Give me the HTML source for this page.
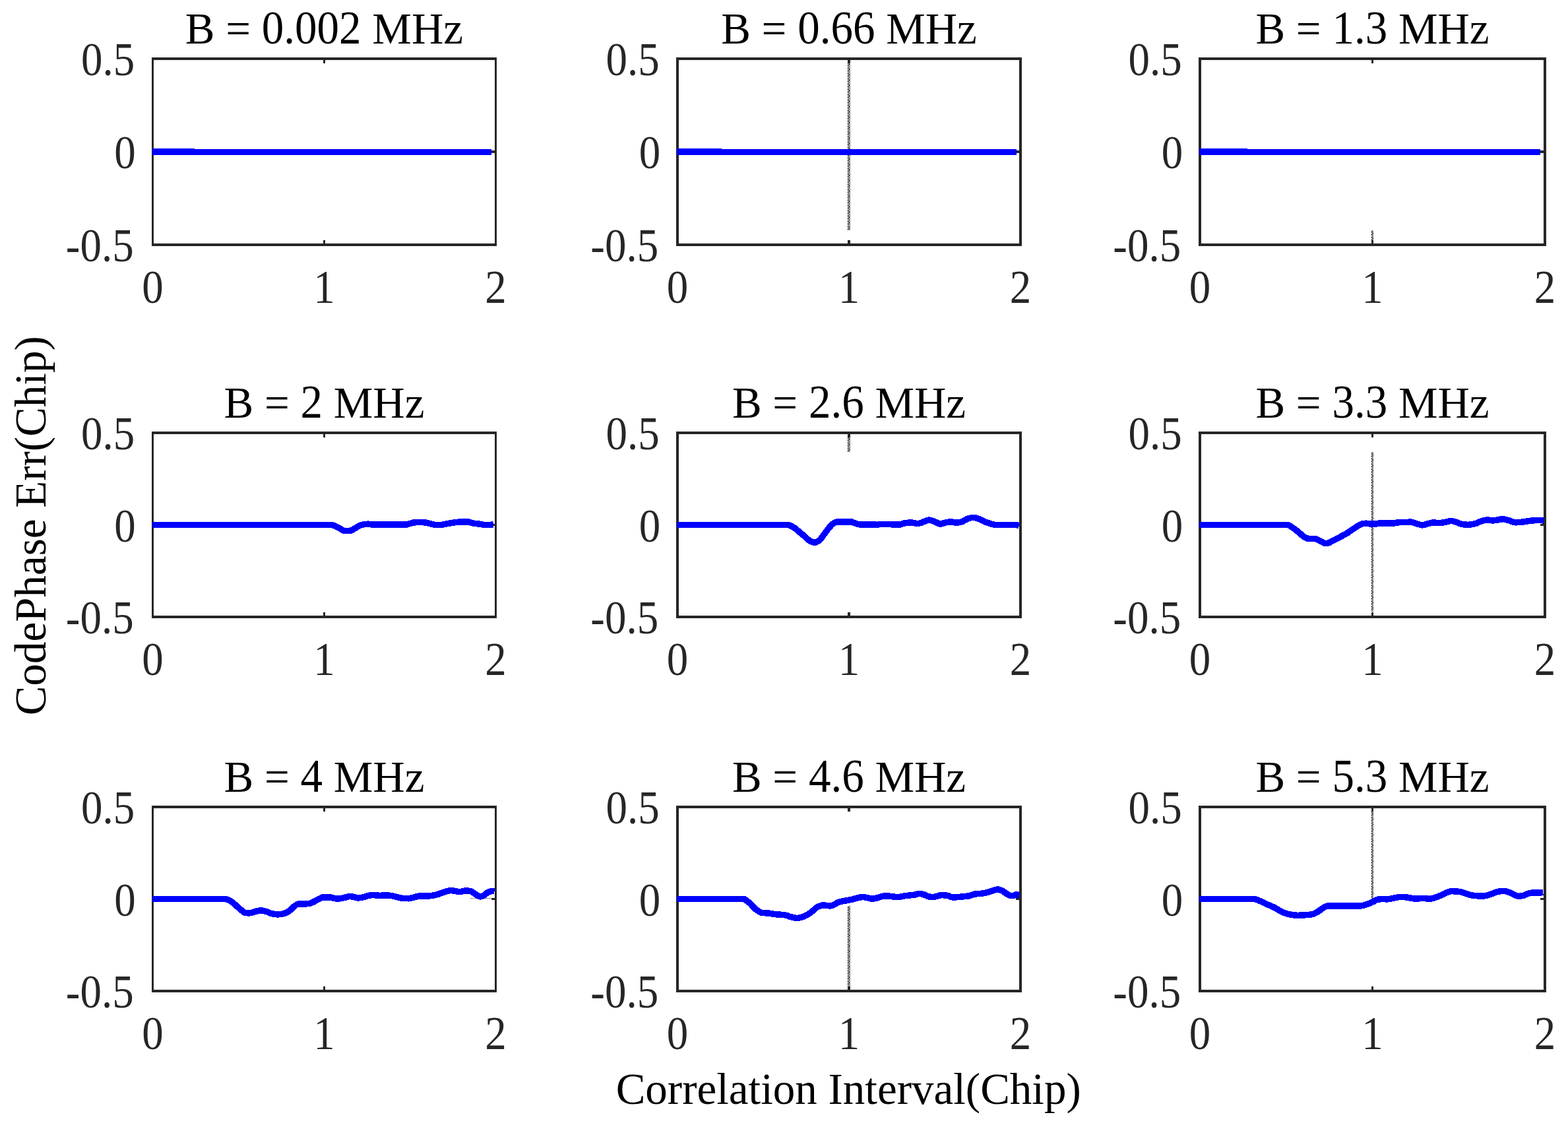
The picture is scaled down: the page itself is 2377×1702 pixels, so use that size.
<!DOCTYPE html>
<html><head><meta charset="utf-8"><title>CodePhase Err vs Correlation Interval</title>
<style>html,body{margin:0;padding:0;background:#fff;}body{width:2377px;height:1702px;overflow:hidden;}svg{display:block;}text{font-family:"Liberation Serif","Times New Roman",serif;}</style>
</head><body>
<svg width="2377" height="1702" viewBox="0 0 2377 1702">
<defs><pattern id="dots" x="1285" y="201" width="4" height="8" patternUnits="userSpaceOnUse"><g fill="#262626"><rect x="1" y="0" width="1" height="1"/><rect x="2" y="0" width="1" height="1"/><rect x="3" y="0" width="1" height="1"/><rect x="0" y="1" width="1" height="1"/><rect x="2" y="1" width="1" height="1"/><rect x="0" y="2" width="1" height="1"/><rect x="1" y="2" width="1" height="1"/><rect x="3" y="2" width="1" height="1"/><rect x="0" y="3" width="1" height="1"/><rect x="2" y="3" width="1" height="1"/><rect x="1" y="4" width="1" height="1"/><rect x="3" y="4" width="1" height="1"/><rect x="0" y="5" width="1" height="1"/><rect x="2" y="5" width="1" height="1"/><rect x="0" y="6" width="1" height="1"/><rect x="1" y="6" width="1" height="1"/><rect x="3" y="6" width="1" height="1"/><rect x="0" y="7" width="1" height="1"/><rect x="2" y="7" width="1" height="1"/></g></pattern><pattern id="dots3" x="2079" y="201" width="4" height="8" patternUnits="userSpaceOnUse"><g fill="#262626"><rect x="1" y="0" width="1" height="1"/><rect x="2" y="0" width="1" height="1"/><rect x="3" y="0" width="1" height="1"/><rect x="0" y="1" width="1" height="1"/><rect x="2" y="1" width="1" height="1"/><rect x="0" y="2" width="1" height="1"/><rect x="1" y="2" width="1" height="1"/><rect x="3" y="2" width="1" height="1"/><rect x="0" y="3" width="1" height="1"/><rect x="2" y="3" width="1" height="1"/><rect x="1" y="4" width="1" height="1"/><rect x="3" y="4" width="1" height="1"/><rect x="0" y="5" width="1" height="1"/><rect x="2" y="5" width="1" height="1"/><rect x="0" y="6" width="1" height="1"/><rect x="1" y="6" width="1" height="1"/><rect x="3" y="6" width="1" height="1"/><rect x="0" y="7" width="1" height="1"/><rect x="2" y="7" width="1" height="1"/></g></pattern></defs>
<rect x="0" y="0" width="2377" height="1702" fill="#fff"/>
<path d="M713 1361h1v1h-1zM715 1361h1v1h-1zM717 1361h1v1h-1zM719 1361h1v1h-1zM721 1361h1v1h-1zM723 1361h1v1h-1zM725 1361h1v1h-1zM727 1361h1v1h-1zM729 1361h1v1h-1zM731 1361h1v1h-1zM733 1361h1v1h-1zM735 1361h1v1h-1zM737 1361h1v1h-1zM739 1361h1v1h-1zM741 1361h1v1h-1zM743 1361h1v1h-1z" fill="#262626" shape-rendering="crispEdges"/>
<g><path d="M230 87h523v4h-523zM230 369h523v4h-523zM230 87h3v286h-3zM750 87h3v286h-3zM490 91h3v5h-3zM490 364h3v5h-3zM233 228h5v4h-5zM745 228h5v4h-5z" fill="#262626" shape-rendering="crispEdges"/><path d="M231 225h64v1h450v9h-514z" fill="#0000ff" shape-rendering="crispEdges"/><text transform="translate(204.1 114) scale(0.955 1.064)" text-anchor="end" font-size="68" fill="#262626">0.5</text><text transform="translate(205.6 255) scale(0.955 1.064)" text-anchor="end" font-size="68" fill="#262626">0</text><text transform="translate(202.6 396) scale(0.955 1.064)" text-anchor="end" font-size="68" fill="#262626">-0.5</text><text transform="translate(231.5 459) scale(0.955 1.064)" text-anchor="middle" font-size="68" fill="#262626">0</text><text transform="translate(491.45 459) scale(0.955 1.064)" text-anchor="middle" font-size="68" fill="#262626">1</text><text transform="translate(751.4 459) scale(0.955 1.064)" text-anchor="middle" font-size="68" fill="#262626">2</text><text x="280.865" y="65.7" font-size="67" fill="#000" xml:space="preserve">B = </text><text transform="translate(396.839 65.7) scale(1 1.07)" font-size="67" fill="#000">0.002</text><text x="547.589" y="65.7" font-size="67" fill="#000" xml:space="preserve"> MHz</text></g>
<g><rect x="1285" y="96" width="4" height="253" fill="url(#dots)" shape-rendering="crispEdges"/><path d="M1025 87h524v4h-524zM1025 369h524v4h-524zM1025 87h4v286h-4zM1545 87h4v286h-4zM1285 91h4v5h-4zM1285 364h4v5h-4zM1029 228h5v4h-5zM1540 228h5v4h-5z" fill="#262626" shape-rendering="crispEdges"/><path d="M1026 225h68v1h447v9h-515z" fill="#0000ff" shape-rendering="crispEdges"/><text transform="translate(999.6 114) scale(0.955 1.064)" text-anchor="end" font-size="68" fill="#262626">0.5</text><text transform="translate(1001.1 255) scale(0.955 1.064)" text-anchor="end" font-size="68" fill="#262626">0</text><text transform="translate(998.1 396) scale(0.955 1.064)" text-anchor="end" font-size="68" fill="#262626">-0.5</text><text transform="translate(1027 459) scale(0.955 1.064)" text-anchor="middle" font-size="68" fill="#262626">0</text><text transform="translate(1287 459) scale(0.955 1.064)" text-anchor="middle" font-size="68" fill="#262626">1</text><text transform="translate(1547 459) scale(0.955 1.064)" text-anchor="middle" font-size="68" fill="#262626">2</text><text x="1093.165" y="65.7" font-size="67" fill="#000" xml:space="preserve">B = </text><text transform="translate(1209.139 65.7) scale(1 1.07)" font-size="67" fill="#000">0.66</text><text x="1326.389" y="65.7" font-size="67" fill="#000" xml:space="preserve"> MHz</text></g>
<g><rect x="2079" y="349" width="3" height="15" fill="url(#dots3)" shape-rendering="crispEdges"/><path d="M1817 87h527v4h-527zM1817 369h527v4h-527zM1817 87h4v286h-4zM2340 87h4v286h-4zM2079 91h3v5h-3zM2079 364h3v5h-3zM1821 228h5v4h-5zM2335 228h5v4h-5z" fill="#262626" shape-rendering="crispEdges"/><path d="M1818 225h73v1h444v9h-517z" fill="#0000ff" shape-rendering="crispEdges"/><text transform="translate(1791.6 114) scale(0.955 1.064)" text-anchor="end" font-size="68" fill="#262626">0.5</text><text transform="translate(1793.1 255) scale(0.955 1.064)" text-anchor="end" font-size="68" fill="#262626">0</text><text transform="translate(1790.1 396) scale(0.955 1.064)" text-anchor="end" font-size="68" fill="#262626">-0.5</text><text transform="translate(1819 459) scale(0.955 1.064)" text-anchor="middle" font-size="68" fill="#262626">0</text><text transform="translate(2080.5 459) scale(0.955 1.064)" text-anchor="middle" font-size="68" fill="#262626">1</text><text transform="translate(2342 459) scale(0.955 1.064)" text-anchor="middle" font-size="68" fill="#262626">2</text><text x="1903.415" y="65.7" font-size="67" fill="#000" xml:space="preserve">B = </text><text transform="translate(2019.389 65.7) scale(1 1.07)" font-size="67" fill="#000">1.3</text><text x="2103.139" y="65.7" font-size="67" fill="#000" xml:space="preserve"> MHz</text></g>
<g><path d="M230 654h523v4h-523zM230 933h523v4h-523zM230 654h3v283h-3zM750 654h3v283h-3zM490 658h3v5h-3zM490 928h3v5h-3zM233 794h5v3h-5zM745 794h5v3h-5z" fill="#262626" shape-rendering="crispEdges"/><path d="M231 795.5 C321.333 795.533 411.667 795.534 502 795.6 C503 795.601 504 795.796 505 796 C506 796.204 507 796.831 508 797.3 C510.933 798.676 513.867 800.254 516.8 801.8 C518.333 802.608 519.867 804.3 521.4 804.3 C524.067 804.3 526.733 804.3 529.4 804.3 C530.533 804.3 531.667 804.121 532.8 803.9 C533.567 803.751 534.333 803.051 535.1 802.6 C537 801.482 538.9 800.186 540.8 799.1 C542.733 797.995 544.667 796.618 546.6 796 C548.5 795.393 550.4 794.941 552.3 794.7 C554.2 794.459 556.1 794.2 558 794.2 C560 794.2 562 795 564 795 C581.5 795 599 795 616.5 795 C617.667 795 618.833 794.333 620 794 C622.333 793.333 624.667 792.277 627 792 C629.667 791.683 632.333 791.4 635 791.4 C637.667 791.4 640.333 791.589 643 791.8 C646 792.037 649 792.869 652 793.5 C654.667 794.061 657.333 795.4 660 795.4 C662.9 795.4 665.8 795.4 668.7 795.4 C671.567 795.4 674.433 794.302 677.3 793.8 C681.133 793.129 684.967 792.372 688.8 791.9 C692.2 791.482 695.6 790.9 699 790.9 C702.267 790.9 705.533 790.9 708.8 790.9 C711.667 790.9 714.533 792.513 717.4 793 C721.233 793.652 725.067 793.926 728.9 794.5 C730.8 794.784 732.7 795.5 734.6 795.5 C736.5 795.5 738.4 795.5 740.3 795.5 C742.8 795.5 745.3 795.167 747.8 795" fill="none" stroke="#0000ff" stroke-width="9.5" stroke-linejoin="round" stroke-linecap="butt" shape-rendering="crispEdges"/><text transform="translate(204.1 681) scale(0.955 1.064)" text-anchor="end" font-size="68" fill="#262626">0.5</text><text transform="translate(205.6 820.5) scale(0.955 1.064)" text-anchor="end" font-size="68" fill="#262626">0</text><text transform="translate(202.6 960) scale(0.955 1.064)" text-anchor="end" font-size="68" fill="#262626">-0.5</text><text transform="translate(231.5 1023) scale(0.955 1.064)" text-anchor="middle" font-size="68" fill="#262626">0</text><text transform="translate(491.45 1023) scale(0.955 1.064)" text-anchor="middle" font-size="68" fill="#262626">1</text><text transform="translate(751.4 1023) scale(0.955 1.064)" text-anchor="middle" font-size="68" fill="#262626">2</text><text x="339.49" y="632.7" font-size="67" fill="#000" xml:space="preserve">B = </text><text transform="translate(455.464 632.7) scale(1 1.07)" font-size="67" fill="#000">2</text><text x="488.964" y="632.7" font-size="67" fill="#000" xml:space="preserve"> MHz</text></g>
<g><rect x="1285" y="663" width="4" height="22" fill="url(#dots)" shape-rendering="crispEdges"/><path d="M1025 654h524v4h-524zM1025 933h524v4h-524zM1025 654h4v283h-4zM1545 654h4v283h-4zM1285 658h4v5h-4zM1285 928h4v5h-4zM1029 794h5v3h-5zM1540 794h5v3h-5z" fill="#262626" shape-rendering="crispEdges"/><path d="M1026 795.4 C1081.933 795.4 1137.867 795.4 1193.8 795.4 C1195.267 795.4 1196.733 796.062 1198.2 796.6 C1200.4 797.407 1202.6 798.813 1204.8 800.3 C1207.033 801.809 1209.267 804.124 1211.5 806 C1214.433 808.464 1217.367 810.867 1220.3 813.3 C1223.233 815.733 1226.167 819.499 1229.1 820.6 C1231.3 821.425 1233.5 822.2 1235.7 822.2 C1237.9 822.2 1240.1 820.268 1242.3 818.6 C1244.5 816.932 1246.7 813.23 1248.9 810.4 C1251.1 807.57 1253.3 804.258 1255.5 801.6 C1257.733 798.902 1259.967 795.737 1262.2 794.2 C1264.4 792.686 1266.6 790.9 1268.8 790.9 C1274.2 790.9 1279.6 791 1285 791 C1286.9 791 1288.8 791 1290.7 791 C1291.667 791 1292.633 791.582 1293.6 791.9 C1295.5 792.526 1297.4 793.4 1299.3 793.9 C1301.2 794.4 1303.1 795.1 1305 795.1 C1312.667 795.1 1320.333 795.1 1328 795.1 C1328.567 795.1 1329.133 795.4 1329.7 795.4 C1331.033 795.4 1332.367 794.5 1333.7 794.5 C1337.533 794.5 1341.367 794.5 1345.2 794.5 C1349.967 794.5 1354.733 795.2 1359.5 795.2 C1361.4 795.2 1363.3 795.017 1365.2 794.8 C1367.133 794.579 1369.067 793.307 1371 793 C1374.433 792.454 1377.867 791.9 1381.3 791.9 C1384.533 791.9 1387.767 793.6 1391 793.6 C1392.9 793.6 1394.8 792.767 1396.7 792.2 C1398.633 791.624 1400.567 790.705 1402.5 790 C1404.4 789.307 1406.3 788 1408.2 788 C1410.467 788 1412.733 789.052 1415 789.8 C1416.9 790.427 1418.8 791.47 1420.7 792.3 C1422.233 792.97 1423.767 794.3 1425.3 794.3 C1427.6 794.3 1429.9 792.801 1432.2 792.3 C1435.067 791.676 1437.933 790.8 1440.8 790.8 C1443.667 790.8 1446.533 792.1 1449.4 792.1 C1452.267 792.1 1455.133 791.537 1458 790.9 C1460.867 790.263 1463.733 787.068 1466.6 786.2 C1469.467 785.332 1472.333 784.4 1475.2 784.4 C1478.067 784.4 1480.933 785.422 1483.8 786.3 C1486.667 787.178 1489.533 789.445 1492.4 790.6 C1495.267 791.755 1498.133 792.688 1501 793.5 C1503.867 794.312 1506.733 795.6 1509.6 795.6 C1520.1 795.6 1530.6 795.5 1541.1 795.5 C1542.4 795.5 1543.7 796.433 1545 796.9" fill="none" stroke="#0000ff" stroke-width="9.5" stroke-linejoin="round" stroke-linecap="butt" shape-rendering="crispEdges"/><text transform="translate(999.6 681) scale(0.955 1.064)" text-anchor="end" font-size="68" fill="#262626">0.5</text><text transform="translate(1001.1 820.5) scale(0.955 1.064)" text-anchor="end" font-size="68" fill="#262626">0</text><text transform="translate(998.1 960) scale(0.955 1.064)" text-anchor="end" font-size="68" fill="#262626">-0.5</text><text transform="translate(1027 1023) scale(0.955 1.064)" text-anchor="middle" font-size="68" fill="#262626">0</text><text transform="translate(1287 1023) scale(0.955 1.064)" text-anchor="middle" font-size="68" fill="#262626">1</text><text transform="translate(1547 1023) scale(0.955 1.064)" text-anchor="middle" font-size="68" fill="#262626">2</text><text x="1109.915" y="632.7" font-size="67" fill="#000" xml:space="preserve">B = </text><text transform="translate(1225.889 632.7) scale(1 1.07)" font-size="67" fill="#000">2.6</text><text x="1309.639" y="632.7" font-size="67" fill="#000" xml:space="preserve"> MHz</text></g>
<g><rect x="2079" y="685" width="3" height="242" fill="url(#dots3)" shape-rendering="crispEdges"/><path d="M1817 654h527v4h-527zM1817 933h527v4h-527zM1817 654h4v283h-4zM2340 654h4v283h-4zM2079 658h3v5h-3zM2079 928h3v5h-3zM1821 794h5v3h-5zM2335 794h5v3h-5z" fill="#262626" shape-rendering="crispEdges"/><path d="M1818 795.4 C1862.633 795.433 1907.267 795.433 1951.9 795.5 C1954.367 795.504 1956.833 797.945 1959.3 799.5 C1962.167 801.307 1965.033 803.708 1967.9 806 C1970.767 808.292 1973.633 811.476 1976.5 813.3 C1978.4 814.509 1980.3 816.106 1982.2 816.2 C1986.033 816.39 1989.867 816.311 1993.7 816.5 C1996.567 816.641 1999.433 819.189 2002.3 820.4 C2005.167 821.611 2008.033 823.8 2010.9 823.8 C2013.767 823.8 2016.633 821.452 2019.5 820.1 C2023.333 818.292 2027.167 816.142 2031 814.1 C2034.8 812.076 2038.6 810.207 2042.4 807.9 C2046.233 805.573 2050.067 802.306 2053.9 800 C2057.7 797.714 2061.5 794.648 2065.3 793.9 C2067.233 793.519 2069.167 793.2 2071.1 793.2 C2073.067 793.2 2075.033 793.9 2077 793.9 C2080.233 793.9 2083.467 793.9 2086.7 793.9 C2088.233 793.9 2089.767 793 2091.3 793 C2098.367 793 2105.433 793 2112.5 793 C2114.033 793 2115.567 792.258 2117.1 792.1 C2119 791.904 2120.9 791.7 2122.8 791.7 C2126.633 791.7 2130.467 791.7 2134.3 791.7 C2135.267 791.7 2136.233 790.9 2137.2 790.9 C2139.1 790.9 2141 791.536 2142.9 792 C2144.8 792.464 2146.7 793.337 2148.6 793.9 C2151.1 794.641 2153.6 795.9 2156.1 795.9 C2158.4 795.9 2160.7 794.764 2163 794.2 C2165.867 793.497 2168.733 792.1 2171.6 792.1 C2175.4 792.1 2179.2 792.4 2183 792.4 C2185.867 792.4 2188.733 791.669 2191.6 791.2 C2194.467 790.731 2197.333 789.5 2200.2 789.5 C2202.467 789.5 2204.733 790.531 2207 791.2 C2209.967 792.075 2212.933 793.936 2215.9 794.4 C2218.9 794.869 2221.9 795.3 2224.9 795.3 C2228.867 795.3 2232.833 794.373 2236.8 793.5 C2239.767 792.847 2242.733 790.729 2245.7 789.9 C2248.667 789.071 2251.633 788 2254.6 788 C2257.567 788 2260.533 788.9 2263.5 788.9 C2268.467 788.9 2273.433 786.7 2278.4 786.7 C2281.4 786.7 2284.4 788.016 2287.4 788.8 C2290.767 789.68 2294.133 791.8 2297.5 791.8 C2301.067 791.8 2304.633 791.426 2308.2 791.1 C2312.167 790.738 2316.133 789.669 2320.1 789.3 C2325.067 788.838 2330.033 788.3 2335 788.3 C2336.767 788.3 2338.533 788.767 2340.3 789" fill="none" stroke="#0000ff" stroke-width="9.5" stroke-linejoin="round" stroke-linecap="butt" shape-rendering="crispEdges"/><text transform="translate(1791.6 681) scale(0.955 1.064)" text-anchor="end" font-size="68" fill="#262626">0.5</text><text transform="translate(1793.1 820.5) scale(0.955 1.064)" text-anchor="end" font-size="68" fill="#262626">0</text><text transform="translate(1790.1 960) scale(0.955 1.064)" text-anchor="end" font-size="68" fill="#262626">-0.5</text><text transform="translate(1819 1023) scale(0.955 1.064)" text-anchor="middle" font-size="68" fill="#262626">0</text><text transform="translate(2080.5 1023) scale(0.955 1.064)" text-anchor="middle" font-size="68" fill="#262626">1</text><text transform="translate(2342 1023) scale(0.955 1.064)" text-anchor="middle" font-size="68" fill="#262626">2</text><text x="1903.415" y="632.7" font-size="67" fill="#000" xml:space="preserve">B = </text><text transform="translate(2019.389 632.7) scale(1 1.07)" font-size="67" fill="#000">3.3</text><text x="2103.139" y="632.7" font-size="67" fill="#000" xml:space="preserve"> MHz</text></g>
<g><path d="M230 1221h523v4h-523zM230 1500h523v4h-523zM230 1221h3v283h-3zM750 1221h3v283h-3zM490 1225h3v5h-3zM490 1495h3v5h-3zM233 1361h5v3h-5zM745 1361h5v3h-5z" fill="#262626" shape-rendering="crispEdges"/><path d="M231 1362.4 C267.767 1362.433 304.533 1362.434 341.3 1362.5 C343.033 1362.503 344.767 1363.227 346.5 1363.9 C349.367 1365.014 352.233 1367.652 355.1 1369.9 C357.967 1372.148 360.833 1375.38 363.7 1377.6 C366.533 1379.794 369.367 1382.966 372.2 1383.4 C374.133 1383.696 376.067 1383.9 378 1383.9 C380.867 1383.9 383.733 1382.252 386.6 1381.6 C389.467 1380.948 392.333 1379.9 395.2 1379.9 C398.067 1379.9 400.933 1380.782 403.8 1381.5 C406.667 1382.218 409.533 1384.25 412.4 1384.8 C415.267 1385.35 418.133 1385.9 421 1385.9 C423.867 1385.9 426.733 1385.375 429.6 1384.8 C432.467 1384.225 435.333 1382.562 438.2 1380.8 C441.033 1379.058 443.867 1375.005 446.7 1373.1 C448.633 1371.8 450.567 1370 452.5 1370 C455 1370 457.5 1370.1 460 1370.1 C463 1370.1 466 1369.745 469 1369.3 C473 1368.706 477 1365.711 481 1363.9 C484 1362.542 487 1359.8 490 1359.8 C493.433 1359.8 496.867 1359.8 500.3 1359.8 C501.833 1359.8 503.367 1360.68 504.9 1361 C507.2 1361.48 509.5 1362.2 511.8 1362.2 C514.1 1362.2 516.4 1361.608 518.7 1361.2 C520.6 1360.863 522.5 1360.349 524.4 1359.9 C526.3 1359.451 528.2 1358.5 530.1 1358.5 C532 1358.5 533.9 1358.968 535.8 1359.3 C538.1 1359.702 540.4 1360.9 542.7 1360.9 C545.2 1360.9 547.7 1360.369 550.2 1359.9 C552.1 1359.544 554 1358.527 555.9 1358.1 C558.767 1357.456 561.633 1356.6 564.5 1356.6 C568.333 1356.6 572.167 1357.3 576 1357.3 C578.867 1357.3 581.733 1356.9 584.6 1356.9 C587.467 1356.9 590.333 1357.188 593.2 1357.5 C596.033 1357.808 598.867 1358.978 601.7 1359.6 C604.567 1360.23 607.433 1361.066 610.3 1361.3 C613.533 1361.564 616.767 1361.8 620 1361.8 C622.867 1361.8 625.733 1360.239 628.6 1359.6 C631.467 1358.961 634.333 1357.9 637.2 1357.9 C641.033 1357.9 644.867 1358 648.7 1358 C652.5 1358 656.3 1357.212 660.1 1356.5 C662.967 1355.963 665.833 1354.65 668.7 1353.7 C671.567 1352.75 674.433 1351.58 677.3 1350.8 C679.2 1350.283 681.1 1349.5 683 1349.5 C685.867 1349.5 688.733 1350.361 691.6 1350.8 C693.533 1351.096 695.467 1351.7 697.4 1351.7 C700.267 1351.7 703.133 1349.9 706 1349.9 C708.267 1349.9 710.533 1350.152 712.8 1350.5 C715.3 1350.883 717.8 1353.493 720.3 1354.9 C722.767 1356.288 725.233 1358.9 727.7 1358.9 C729.233 1358.9 730.767 1358.415 732.3 1357.9 C734.967 1357.005 737.633 1352.96 740.3 1352 C742.4 1351.244 744.5 1350.5 746.6 1350.5 C747.567 1350.5 748.533 1350.7 749.5 1350.8" fill="none" stroke="#0000ff" stroke-width="9.5" stroke-linejoin="round" stroke-linecap="butt" shape-rendering="crispEdges"/><text transform="translate(204.1 1248) scale(0.955 1.064)" text-anchor="end" font-size="68" fill="#262626">0.5</text><text transform="translate(205.6 1387.5) scale(0.955 1.064)" text-anchor="end" font-size="68" fill="#262626">0</text><text transform="translate(202.6 1527) scale(0.955 1.064)" text-anchor="end" font-size="68" fill="#262626">-0.5</text><text transform="translate(231.5 1590) scale(0.955 1.064)" text-anchor="middle" font-size="68" fill="#262626">0</text><text transform="translate(491.45 1590) scale(0.955 1.064)" text-anchor="middle" font-size="68" fill="#262626">1</text><text transform="translate(751.4 1590) scale(0.955 1.064)" text-anchor="middle" font-size="68" fill="#262626">2</text><text x="339.49" y="1199.7" font-size="67" fill="#000" xml:space="preserve">B = </text><text transform="translate(455.464 1199.7) scale(1 1.07)" font-size="67" fill="#000">4</text><text x="488.964" y="1199.7" font-size="67" fill="#000" xml:space="preserve"> MHz</text></g>
<g><rect x="1285" y="1373" width="4" height="122" fill="url(#dots)" shape-rendering="crispEdges"/><path d="M1025 1221h524v4h-524zM1025 1500h524v4h-524zM1025 1221h4v283h-4zM1545 1221h4v283h-4zM1285 1225h4v5h-4zM1285 1495h4v5h-4zM1029 1361h5v3h-5zM1540 1361h5v3h-5z" fill="#262626" shape-rendering="crispEdges"/><path d="M1026 1362.4 C1059.833 1362.4 1093.667 1362.4 1127.5 1362.4 C1128.833 1362.4 1130.167 1363.979 1131.5 1364.9 C1133.4 1366.212 1135.3 1367.573 1137.2 1369.3 C1139.1 1371.027 1141 1373.845 1142.9 1375.6 C1144.833 1377.385 1146.767 1378.977 1148.7 1380.2 C1150.6 1381.402 1152.5 1382.914 1154.4 1383.2 C1158.2 1383.771 1162 1383.782 1165.8 1384.2 C1169.633 1384.622 1173.467 1385.569 1177.3 1385.9 C1181.133 1386.231 1184.967 1386.212 1188.8 1386.6 C1192.6 1386.984 1196.4 1389.164 1200.2 1390 C1203.067 1390.631 1205.933 1391.5 1208.8 1391.5 C1210.733 1391.5 1212.667 1390.753 1214.6 1390.2 C1217.467 1389.38 1220.333 1388.253 1223.2 1386.8 C1226.033 1385.364 1228.867 1382.913 1231.7 1380.8 C1234.567 1378.662 1237.433 1375.108 1240.3 1374 C1243.167 1372.892 1246.033 1371.8 1248.9 1371.8 C1249.967 1371.8 1251.033 1372.184 1252.1 1372.3 C1254.5 1372.561 1256.9 1372.9 1259.3 1372.9 C1263.667 1372.9 1268.033 1368.075 1272.4 1366.9 C1276.6 1365.77 1280.8 1365.305 1285 1364.5 C1286.9 1364.136 1288.8 1363.834 1290.7 1363.4 C1293.567 1362.746 1296.433 1361.615 1299.3 1361 C1302.167 1360.385 1305.033 1359.5 1307.9 1359.5 C1310.767 1359.5 1313.633 1360.475 1316.5 1361 C1318.4 1361.348 1320.3 1362.1 1322.2 1362.1 C1325.067 1362.1 1327.933 1361.234 1330.8 1360.6 C1333.667 1359.966 1336.533 1358.094 1339.4 1358 C1341.333 1357.937 1343.267 1357.9 1345.2 1357.9 C1348.067 1357.9 1350.933 1358.771 1353.8 1359 C1356.667 1359.229 1359.533 1359.5 1362.4 1359.5 C1365.267 1359.5 1368.133 1358.31 1371 1357.9 C1373.867 1357.49 1376.733 1357.249 1379.6 1356.9 C1382.467 1356.551 1385.333 1356.282 1388.2 1355.8 C1390.1 1355.48 1392 1354.4 1393.9 1354.4 C1395.8 1354.4 1397.7 1355.003 1399.6 1355.5 C1402.467 1356.251 1405.333 1358.643 1408.2 1359 C1410.467 1359.282 1412.733 1359.5 1415 1359.5 C1418.967 1359.5 1422.933 1356.7 1426.9 1356.7 C1429.467 1356.7 1432.033 1356.823 1434.6 1357 C1438 1357.234 1441.4 1360 1444.8 1360 C1448.767 1360 1452.733 1359.443 1456.7 1359.1 C1460.667 1358.757 1464.633 1358.506 1468.6 1357.9 C1471.567 1357.447 1474.533 1355.524 1477.5 1355.1 C1481.467 1354.533 1485.433 1354.526 1489.4 1354 C1493.367 1353.474 1497.333 1352.234 1501.3 1351.2 C1505.067 1350.218 1508.833 1347.9 1512.6 1347.9 C1514.8 1347.9 1517 1349.047 1519.2 1350 C1521.167 1350.852 1523.133 1352.902 1525.1 1354 C1527.7 1355.451 1530.3 1357.7 1532.9 1357.7 C1534.267 1357.7 1535.633 1357.519 1537 1357.3 C1538.2 1357.108 1539.4 1355.7 1540.6 1355.7 C1542.2 1355.7 1543.8 1356.367 1545.4 1356.7" fill="none" stroke="#0000ff" stroke-width="9.5" stroke-linejoin="round" stroke-linecap="butt" shape-rendering="crispEdges"/><text transform="translate(999.6 1248) scale(0.955 1.064)" text-anchor="end" font-size="68" fill="#262626">0.5</text><text transform="translate(1001.1 1387.5) scale(0.955 1.064)" text-anchor="end" font-size="68" fill="#262626">0</text><text transform="translate(998.1 1527) scale(0.955 1.064)" text-anchor="end" font-size="68" fill="#262626">-0.5</text><text transform="translate(1027 1590) scale(0.955 1.064)" text-anchor="middle" font-size="68" fill="#262626">0</text><text transform="translate(1287 1590) scale(0.955 1.064)" text-anchor="middle" font-size="68" fill="#262626">1</text><text transform="translate(1547 1590) scale(0.955 1.064)" text-anchor="middle" font-size="68" fill="#262626">2</text><text x="1109.915" y="1199.7" font-size="67" fill="#000" xml:space="preserve">B = </text><text transform="translate(1225.889 1199.7) scale(1 1.07)" font-size="67" fill="#000">4.6</text><text x="1309.639" y="1199.7" font-size="67" fill="#000" xml:space="preserve"> MHz</text></g>
<g><rect x="2079" y="1230" width="3" height="132" fill="url(#dots3)" shape-rendering="crispEdges"/><path d="M1817 1221h527v4h-527zM1817 1500h527v4h-527zM1817 1221h4v283h-4zM2340 1221h4v283h-4zM2079 1225h3v5h-3zM2079 1495h3v5h-3zM1821 1361h5v3h-5zM2335 1361h5v3h-5z" fill="#262626" shape-rendering="crispEdges"/><path d="M1818 1362.4 C1845.567 1362.4 1873.133 1362.4 1900.7 1362.4 C1903.567 1362.4 1906.433 1364.106 1909.3 1365.2 C1913.133 1366.663 1916.967 1368.76 1920.8 1370.5 C1924.6 1372.225 1928.4 1373.689 1932.2 1375.6 C1936.033 1377.527 1939.867 1380.619 1943.7 1382.2 C1947.533 1383.781 1951.367 1385.219 1955.2 1385.9 C1959 1386.575 1962.8 1387.3 1966.6 1387.3 C1971.4 1387.3 1976.2 1386.919 1981 1386.6 C1983.867 1386.41 1986.733 1386.196 1989.6 1385.7 C1992.467 1385.204 1995.333 1383.054 1998.2 1381.4 C2001.033 1379.765 2003.867 1377.133 2006.7 1375.6 C2008.633 1374.554 2010.567 1373.028 2012.5 1373 C2017.1 1372.934 2021.7 1372.9 2026.3 1372.9 C2032.233 1372.9 2038.167 1372.9 2044.1 1372.9 C2050.067 1372.9 2056.033 1372.9 2062 1372.9 C2065.967 1372.9 2069.933 1371.111 2073.9 1369.9 C2074.933 1369.584 2075.967 1369.125 2077 1368.7 C2078.9 1367.919 2080.8 1367.102 2082.7 1366.2 C2084.633 1365.282 2086.567 1363.472 2088.5 1363.2 C2091.367 1362.797 2094.233 1362.5 2097.1 1362.5 C2099 1362.5 2100.9 1362.9 2102.8 1362.9 C2105.667 1362.9 2108.533 1361.984 2111.4 1361.5 C2115.2 1360.858 2119 1359.5 2122.8 1359.5 C2125.667 1359.5 2128.533 1359.631 2131.4 1359.8 C2133.333 1359.914 2135.267 1360.605 2137.2 1360.9 C2140.067 1361.338 2142.933 1362 2145.8 1362 C2149.6 1362 2153.4 1361.5 2157.2 1361.5 C2160.467 1361.5 2163.733 1362.3 2167 1362.3 C2169.467 1362.3 2171.933 1361.375 2174.4 1360.7 C2177.267 1359.916 2180.133 1358.685 2183 1357.5 C2185.867 1356.315 2188.733 1354.598 2191.6 1353.5 C2194.467 1352.402 2197.333 1350.7 2200.2 1350.7 C2202.467 1350.7 2204.733 1350.791 2207 1350.9 C2209.967 1351.043 2212.933 1351.525 2215.9 1352.1 C2218.9 1352.681 2221.9 1354.417 2224.9 1355.2 C2228.867 1356.235 2232.833 1357.577 2236.8 1357.7 C2240.767 1357.823 2244.733 1357.9 2248.7 1357.9 C2252.667 1357.9 2256.633 1356.22 2260.6 1355.1 C2264.567 1353.98 2268.533 1351.144 2272.5 1350.9 C2275.467 1350.717 2278.433 1350.6 2281.4 1350.6 C2284.367 1350.6 2287.333 1352.431 2290.3 1353.5 C2294.267 1354.93 2298.233 1358.3 2302.2 1358.3 C2304.2 1358.3 2306.2 1357.953 2308.2 1357.6 C2312.167 1356.9 2316.133 1353.498 2320.1 1353.3 C2325.067 1353.052 2330.033 1353.107 2335 1352.9 C2336.433 1352.84 2337.867 1352.633 2339.3 1352.5" fill="none" stroke="#0000ff" stroke-width="9.5" stroke-linejoin="round" stroke-linecap="butt" shape-rendering="crispEdges"/><text transform="translate(1791.6 1248) scale(0.955 1.064)" text-anchor="end" font-size="68" fill="#262626">0.5</text><text transform="translate(1793.1 1387.5) scale(0.955 1.064)" text-anchor="end" font-size="68" fill="#262626">0</text><text transform="translate(1790.1 1527) scale(0.955 1.064)" text-anchor="end" font-size="68" fill="#262626">-0.5</text><text transform="translate(1819 1590) scale(0.955 1.064)" text-anchor="middle" font-size="68" fill="#262626">0</text><text transform="translate(2080.5 1590) scale(0.955 1.064)" text-anchor="middle" font-size="68" fill="#262626">1</text><text transform="translate(2342 1590) scale(0.955 1.064)" text-anchor="middle" font-size="68" fill="#262626">2</text><text x="1903.415" y="1199.7" font-size="67" fill="#000" xml:space="preserve">B = </text><text transform="translate(2019.389 1199.7) scale(1 1.07)" font-size="67" fill="#000">5.3</text><text x="2103.139" y="1199.7" font-size="67" fill="#000" xml:space="preserve"> MHz</text></g>
<text x="1286.2" y="1673.4" text-anchor="middle" font-size="67" fill="#000">Correlation Interval(Chip)</text>
<text transform="translate(69 796.7) rotate(-90)" x="0" y="0" text-anchor="middle" font-size="67" fill="#000">CodePhase Err(Chip)</text>
</svg></body></html>
